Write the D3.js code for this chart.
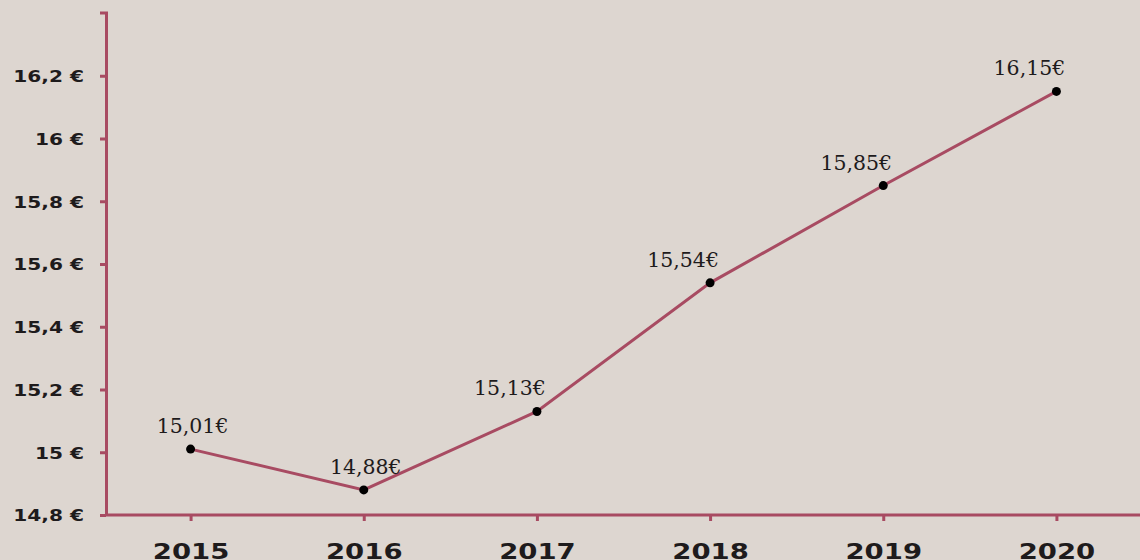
<html>
<script src='https://d3js.org/d3.v7.min.js'></script>
<style>
body {margin:0; background:#ddd6d0;}
svg {display:block;}
.ylab {font-family:'DejaVu Sans'; font-weight:bold; font-size:15.5px; fill:#1e1b1c;}
.xlab {font-family:'DejaVu Sans'; font-weight:bold; font-size:22px; fill:#1e1b1c;}
.vlab {font-family:'DejaVu Serif'; font-size:20.5px; fill:#1e1b1c;}
</style>
<body>
<svg width=1140 height=560></svg>
<script>

// data
const years = ["2015","2016","2017","2018","2019","2020"];
const prices = [15.01, 14.88, 15.13, 15.54, 15.85, 16.15];
const yTicks = [14.8, 15, 15.2, 15.4, 15.6, 15.8, 16, 16.2];

const red = "#a84b62";
const svg = d3.select("svg");

const x = d3.scalePoint().domain(years).range([104, 1143]).padding(0.5);
const y = d3.scaleLinear().domain([14.8, 16.4]).range([515, 13]);

const fmt = v => String(v).replace(".", ",");

// y axis
const gy = svg.append("g").attr("transform","translate(106,0)")
  .call(d3.axisLeft(y).tickValues(yTicks).tickSize(6).tickSizeOuter(0).tickFormat(d => fmt(d) + " €"));
gy.select(".domain").attr("stroke", red).attr("stroke-width", 3);
gy.selectAll(".tick line").attr("stroke", red).attr("stroke-width", 3);
gy.selectAll(".tick text").attr("class","ylab").attr("fill", null).attr("x", -22).attr("dy","0.38em")
  .attr("textLength", function(){ return this.getComputedTextLength() * 1.3; })
  .attr("lengthAdjust","spacingAndGlyphs");
// top cap
svg.append("line").attr("x1",100).attr("x2",108).attr("y1",y(16.4)).attr("y2",y(16.4))
  .attr("stroke",red).attr("stroke-width",3);

// x axis
const gx = svg.append("g").attr("transform","translate(0,515)")
  .call(d3.axisBottom(x).tickSize(6).tickSizeOuter(0));
gx.select(".domain").attr("stroke", red).attr("stroke-width", 3).attr("d","M105,0H1140");
gx.selectAll(".tick line").attr("stroke", red).attr("stroke-width", 3);
gx.selectAll(".tick text").attr("class","xlab").attr("fill", null).attr("y", 44).attr("dy", 0)
  .attr("textLength", function(){ return this.getComputedTextLength() * 1.25; })
  .attr("lengthAdjust","spacingAndGlyphs");

// line
const pts = years.map((d,i) => ({year:d, value:prices[i], i:i}));
const line = d3.line().x(d => x(d.year)).y(d => y(d.value));
svg.append("path").datum(pts).attr("d", line)
  .attr("fill","none").attr("stroke", red).attr("stroke-width", 3);

svg.append("g").selectAll("circle").data(pts).enter().append("circle")
  .attr("cx", d => x(d.year)).attr("cy", d => y(d.value)).attr("r", 4.5).attr("fill","#000");

// value labels, pushed left where the line comes in rising
svg.append("g").selectAll("text").data(pts).enter().append("text")
  .attr("class","vlab")
  .attr("text-anchor","middle")
  .attr("x", d => x(d.year) + (d.i > 0 && d.value > prices[d.i-1] ? -27 : 2))
  .attr("y", d => y(d.value) - 16)
  .text(d => fmt(d.value.toFixed(2)) + "€");

</script>
</body>
</html>
